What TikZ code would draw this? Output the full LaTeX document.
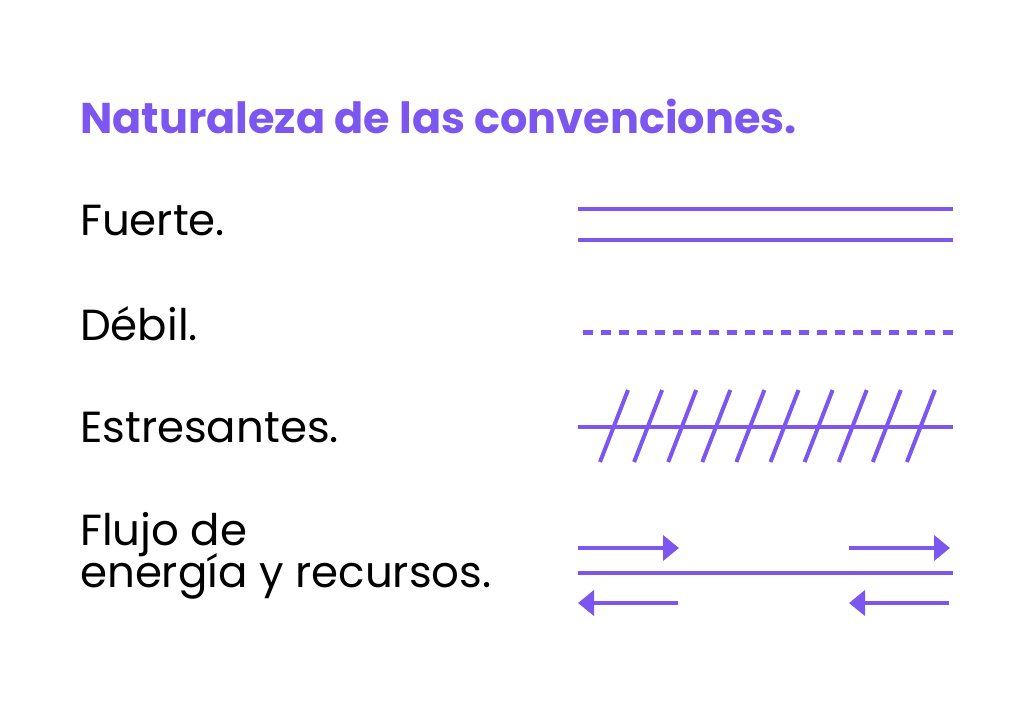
\documentclass[tikz,border=0pt]{standalone}
\usepackage{fontspec}
\setmainfont{Poppins}
\usetikzlibrary{
    arrows.meta,
    positioning
}
\definecolor{lila}{HTML}{7B57F0}

\tikzset{
    titulo/.style={anchor=base west, inner sep=0pt, text=lila,
        font=\fontsize{43}{50}\selectfont\bfseries},
    etiqueta/.style={anchor=base west, inner sep=0pt, align=left,
        font=\fontsize{43.5}{42}\selectfont},
    trazo/.style={draw=lila, line width=4pt},
    flecha/.style={trazo, -{Triangle[length=16pt,width=25pt]}}
}

\begin{document}
\begin{tikzpicture}[x=1pt,y=-1pt]
    \useasboundingbox[fill=white] (0,0) rectangle (1024,710);

    \node[titulo] (titulo) at (80,133) {Naturaleza de las convenciones.};

    \node[etiqueta] (fuerte)      at (80,235) {Fuerte.};
    \node[etiqueta] (debil)       at (80,340) {Débil.};
    \node[etiqueta] (estresantes) at (80,442) {Estresantes.};
    \node[etiqueta] (flujo)       at (80,587) {Flujo de\\[-5pt]energía y recursos.};

    % fuerte
    \draw[trazo] (578,209) -- (953,209);
    \draw[trazo] (578,240) -- (953,240);

    % debil
    \draw[trazo, line width=5pt, dash pattern=on 10pt off 8pt] (583,332) -- (953,332);

    % estresantes
    \draw[trazo] (578,427) -- (953,427);
    \foreach \i in {0,...,9}
        \draw[trazo] ({628+34.1*\i},390) -- ({600+34.1*\i},462);

    % flujo
    \draw[trazo] (578,573) -- (953,573);
    \draw[flecha] (578,548) -- (679,548);
    \draw[flecha] (849,548) -- (950,548);
    \draw[flecha] (678,603) -- (578,603);
    \draw[flecha] (949,603) -- (849,603);
\end{tikzpicture}
\end{document}
